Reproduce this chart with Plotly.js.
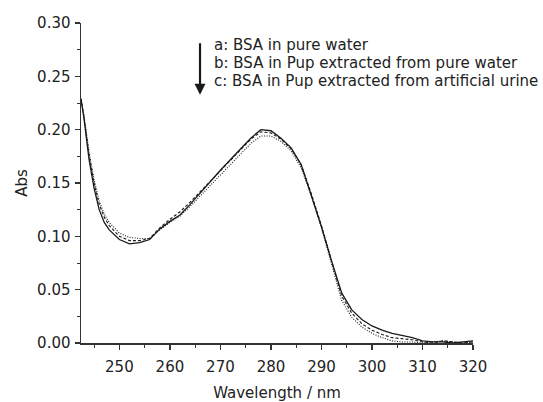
<!DOCTYPE html>
<html>
<head>
<meta charset="utf-8">
<script src="https://cdn.plot.ly/plotly-3.0.1.min.js"></script>
<style>html,body{margin:0;padding:0;background:#fff}#chart{width:543px;height:402px}</style>
</head>
<body>
<div id="chart"></div>
<script>
const wavelength = [242.4,243,244,245,246,247,248,250,252,254,256,258,260,262,264,266,268,270,272,274,276,278,280,282,284,286,288,290,292,294,296,298,300,302,304,306,308,310,312,314,316,318,320];
const absA = [0.229,0.210,0.172,0.145,0.125,0.113,0.106,0.097,0.093,0.094,0.097,0.107,0.114,0.120,0.130,0.141,0.152,0.162,0.172,0.182,0.192,0.200,0.199,0.192,0.183,0.167,0.139,0.109,0.077,0.047,0.031,0.022,0.016,0.012,0.009,0.007,0.005,0.002,0.001,0.001,0.000,0.001,0.002];
const absB = [0.229,0.212,0.176,0.150,0.130,0.118,0.110,0.100,0.096,0.096,0.098,0.108,0.116,0.123,0.132,0.142,0.152,0.161,0.171,0.181,0.191,0.198,0.197,0.191,0.182,0.167,0.140,0.110,0.076,0.044,0.028,0.018,0.012,0.008,0.005,0.004,0.003,0.001,0.000,0.002,0.001,0.000,0.001];
const absC = [0.228,0.213,0.179,0.153,0.133,0.121,0.113,0.103,0.099,0.098,0.098,0.106,0.113,0.119,0.128,0.138,0.148,0.157,0.167,0.177,0.187,0.194,0.194,0.189,0.180,0.164,0.138,0.108,0.073,0.040,0.024,0.015,0.009,0.005,0.002,0.001,0.001,0.000,0.001,0.002,0.001,0.000,0.001];
const legendLines = ["a: BSA in pure water","b: BSA in Pup extracted from pure water","c: BSA in Pup extracted from artificial urine"];

const lineColor = '#1a1a1a';
const traces = [
  {x: wavelength, y: absA, mode:'lines', line:{color:lineColor, width:1.3, dash:'solid'}, name:'a'},
  {x: wavelength, y: absB, mode:'lines', line:{color:lineColor, width:1.1, dash:'3px,2px'}, name:'b'},
  {x: wavelength, y: absC, mode:'lines', line:{color:lineColor, width:1.1, dash:'1px,1.5px'}, name:'c'}
];
const font = {family:'"DejaVu Sans", sans-serif', size:15, color:'#222'};
const annotations = [
  {xref:'paper', yref:'paper', x:0.3036, y:0.7755, ax:0, ay:-53, text:'', showarrow:true, arrowhead:2, arrowsize:1, arrowwidth:2.2, arrowcolor:'#1a1a1a'}
];
const ys = [0.93125, 0.875, 0.81875];
legendLines.forEach((t,i)=>annotations.push({xref:'paper', yref:'paper', x:0.333, y:ys[i], xanchor:'left', yanchor:'middle', text:t, showarrow:false, font:font}));

const layout = {
  width:543, height:402,
  margin:{l:81, r:70, t:23, b:59, pad:0},
  paper_bgcolor:'#fff', plot_bgcolor:'#fff',
  showlegend:false,
  font: font,
  xaxis:{range:[242.4,320], dtick:10, tick0:250, ticks:'outside', ticklen:5, tickwidth:1.2, tickcolor:'#333',
         showline:true, linecolor:'#333', linewidth:1.5, showgrid:false, zeroline:false, ticklabelstandoff:4,
         minor:{dtick:5, tick0:245, ticks:'outside', ticklen:3, tickwidth:1, tickcolor:'#333', showgrid:false},
         title:{text:'Wavelength / nm', font:font, standoff:14}, tickfont:font},
  yaxis:{range:[0,0.30], dtick:0.05, tickformat:'.2f', ticks:'outside', ticklen:5, tickwidth:1.2, tickcolor:'#333',
         showline:true, linecolor:'#333', linewidth:1.5, showgrid:false, zeroline:false, ticklabelstandoff:1,
         minor:{dtick:0.025, ticks:'outside', ticklen:3, tickwidth:1, tickcolor:'#333', showgrid:false},
         title:{text:'Abs', font:font, standoff:6}, tickfont:font},
  annotations: annotations
};
Plotly.newPlot('chart', traces, layout, {staticPlot:true, displayModeBar:false});
</script>
</body>
</html>
